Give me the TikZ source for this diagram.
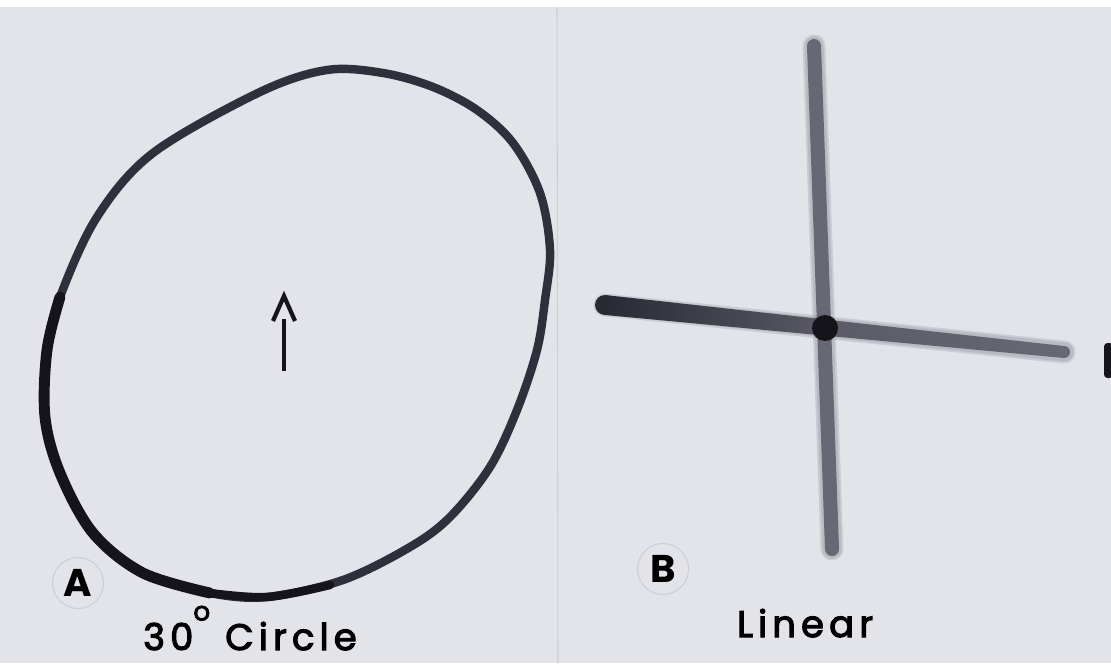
\documentclass[tikz,border=0pt]{standalone}
\usepackage{fontspec}
\newfontfamily\labelfont[LetterSpace=14,FakeBold=3]{Poppins}
\newfontfamily\letterfont{Poppins}
\definecolor{paper}{RGB}{227,228,234}
\definecolor{rim}{RGB}{48,48,60}
\definecolor{rimdark}{RGB}{20,20,26}
\definecolor{bar}{RGB}{104,104,116}
\definecolor{bardark}{RGB}{42,42,52}
\definecolor{fold}{RGB}{206,207,213}
\newcommand{\degmark}{\raisebox{0.8em}{\fontsize{15}{15}\selectfont o}}
\tikzset{
  tag/.style={circle,draw=fold,line width=0.6pt,minimum size=1.02cm,inner sep=0pt,
    font=\letterfont\bfseries\fontsize{22}{22}\selectfont},
  caption/.style={anchor=base,inner sep=0pt,font=\labelfont\fontsize{21}{21}\selectfont},
  haze/.style={line cap=round,opacity=.18},
}
\begin{document}
\begin{tikzpicture}[x=0.02cm,y=-0.02cm]
\fill[paper] (0,0) rectangle (1111,663);
\useasboundingbox (0,0) rectangle (1111,663);
\fill[white] (0,0) rectangle (1111,7);
\draw[fold,line width=0.6pt] (557,7)--(558,663);
\fill[rimdark,rounded corners=2pt] (1104,343) rectangle (1113,378);

\draw[rim,line width=4.8pt] plot[smooth cycle,tension=0.55] coordinates {
  (327,70) (383,73) (433,87) (477,110) (513,143) (540,193) (550,250) (545,300)
  (537,350) (517,410) (490,467) (450,517) (410,547) (343,580) (267,597) (210,593)
  (143,573) (93,533) (60,473) (45,417) (47,350) (60,297) (97,217) (153,153) (260,92)};
\draw[rimdark,line width=6.2pt,line cap=round] plot[smooth,tension=0.55] coordinates {
  (60,297) (47,350) (45,417) (60,473) (93,533) (143,573) (210,593)};
\draw[rimdark,line width=4.8pt,line cap=round] plot[smooth,tension=0.55] coordinates {
  (210,593) (267,597) (330,585)};

\draw[rimdark,line width=2.6pt] (284,371)--(284,319);
\draw[rimdark,line width=2.4pt,line join=miter] (273,321)--(284,296)--(295,321);

\coordinate (top) at (814,46);
\coordinate (foot) at (832,549);
\coordinate (west) at (605,305);
\coordinate (east) at (1064,352);
\coordinate (hub) at (825,328);
\foreach \ww in {13,11}{
  \draw[bar,haze,line width=\ww pt] (top)--(foot);
  \draw[bar,haze,line width=\ww pt] (west)--(east);}
\draw[bar,line width=8pt,line cap=round] (top)--(foot);
\shade[left color=bardark,right color=bar,middle color=bar!80!bardark]
  (605,295)--(1064,346)--(1064,358)--(605,315)--cycle;
\fill[bardark] (west) circle (0.2cm);
\fill[bar] (east) circle (0.12cm);
\fill[rimdark] (hub) circle (0.26cm);

\node[tag] (tagA) at (78,583) {A};
\node[tag] (tagB) at (663,569) {B};
\node[caption] (capA) at (250,650) {30\degmark\ Circle};
\node[caption] (capB) at (805,637) {Linear};
\end{tikzpicture}
\end{document}
